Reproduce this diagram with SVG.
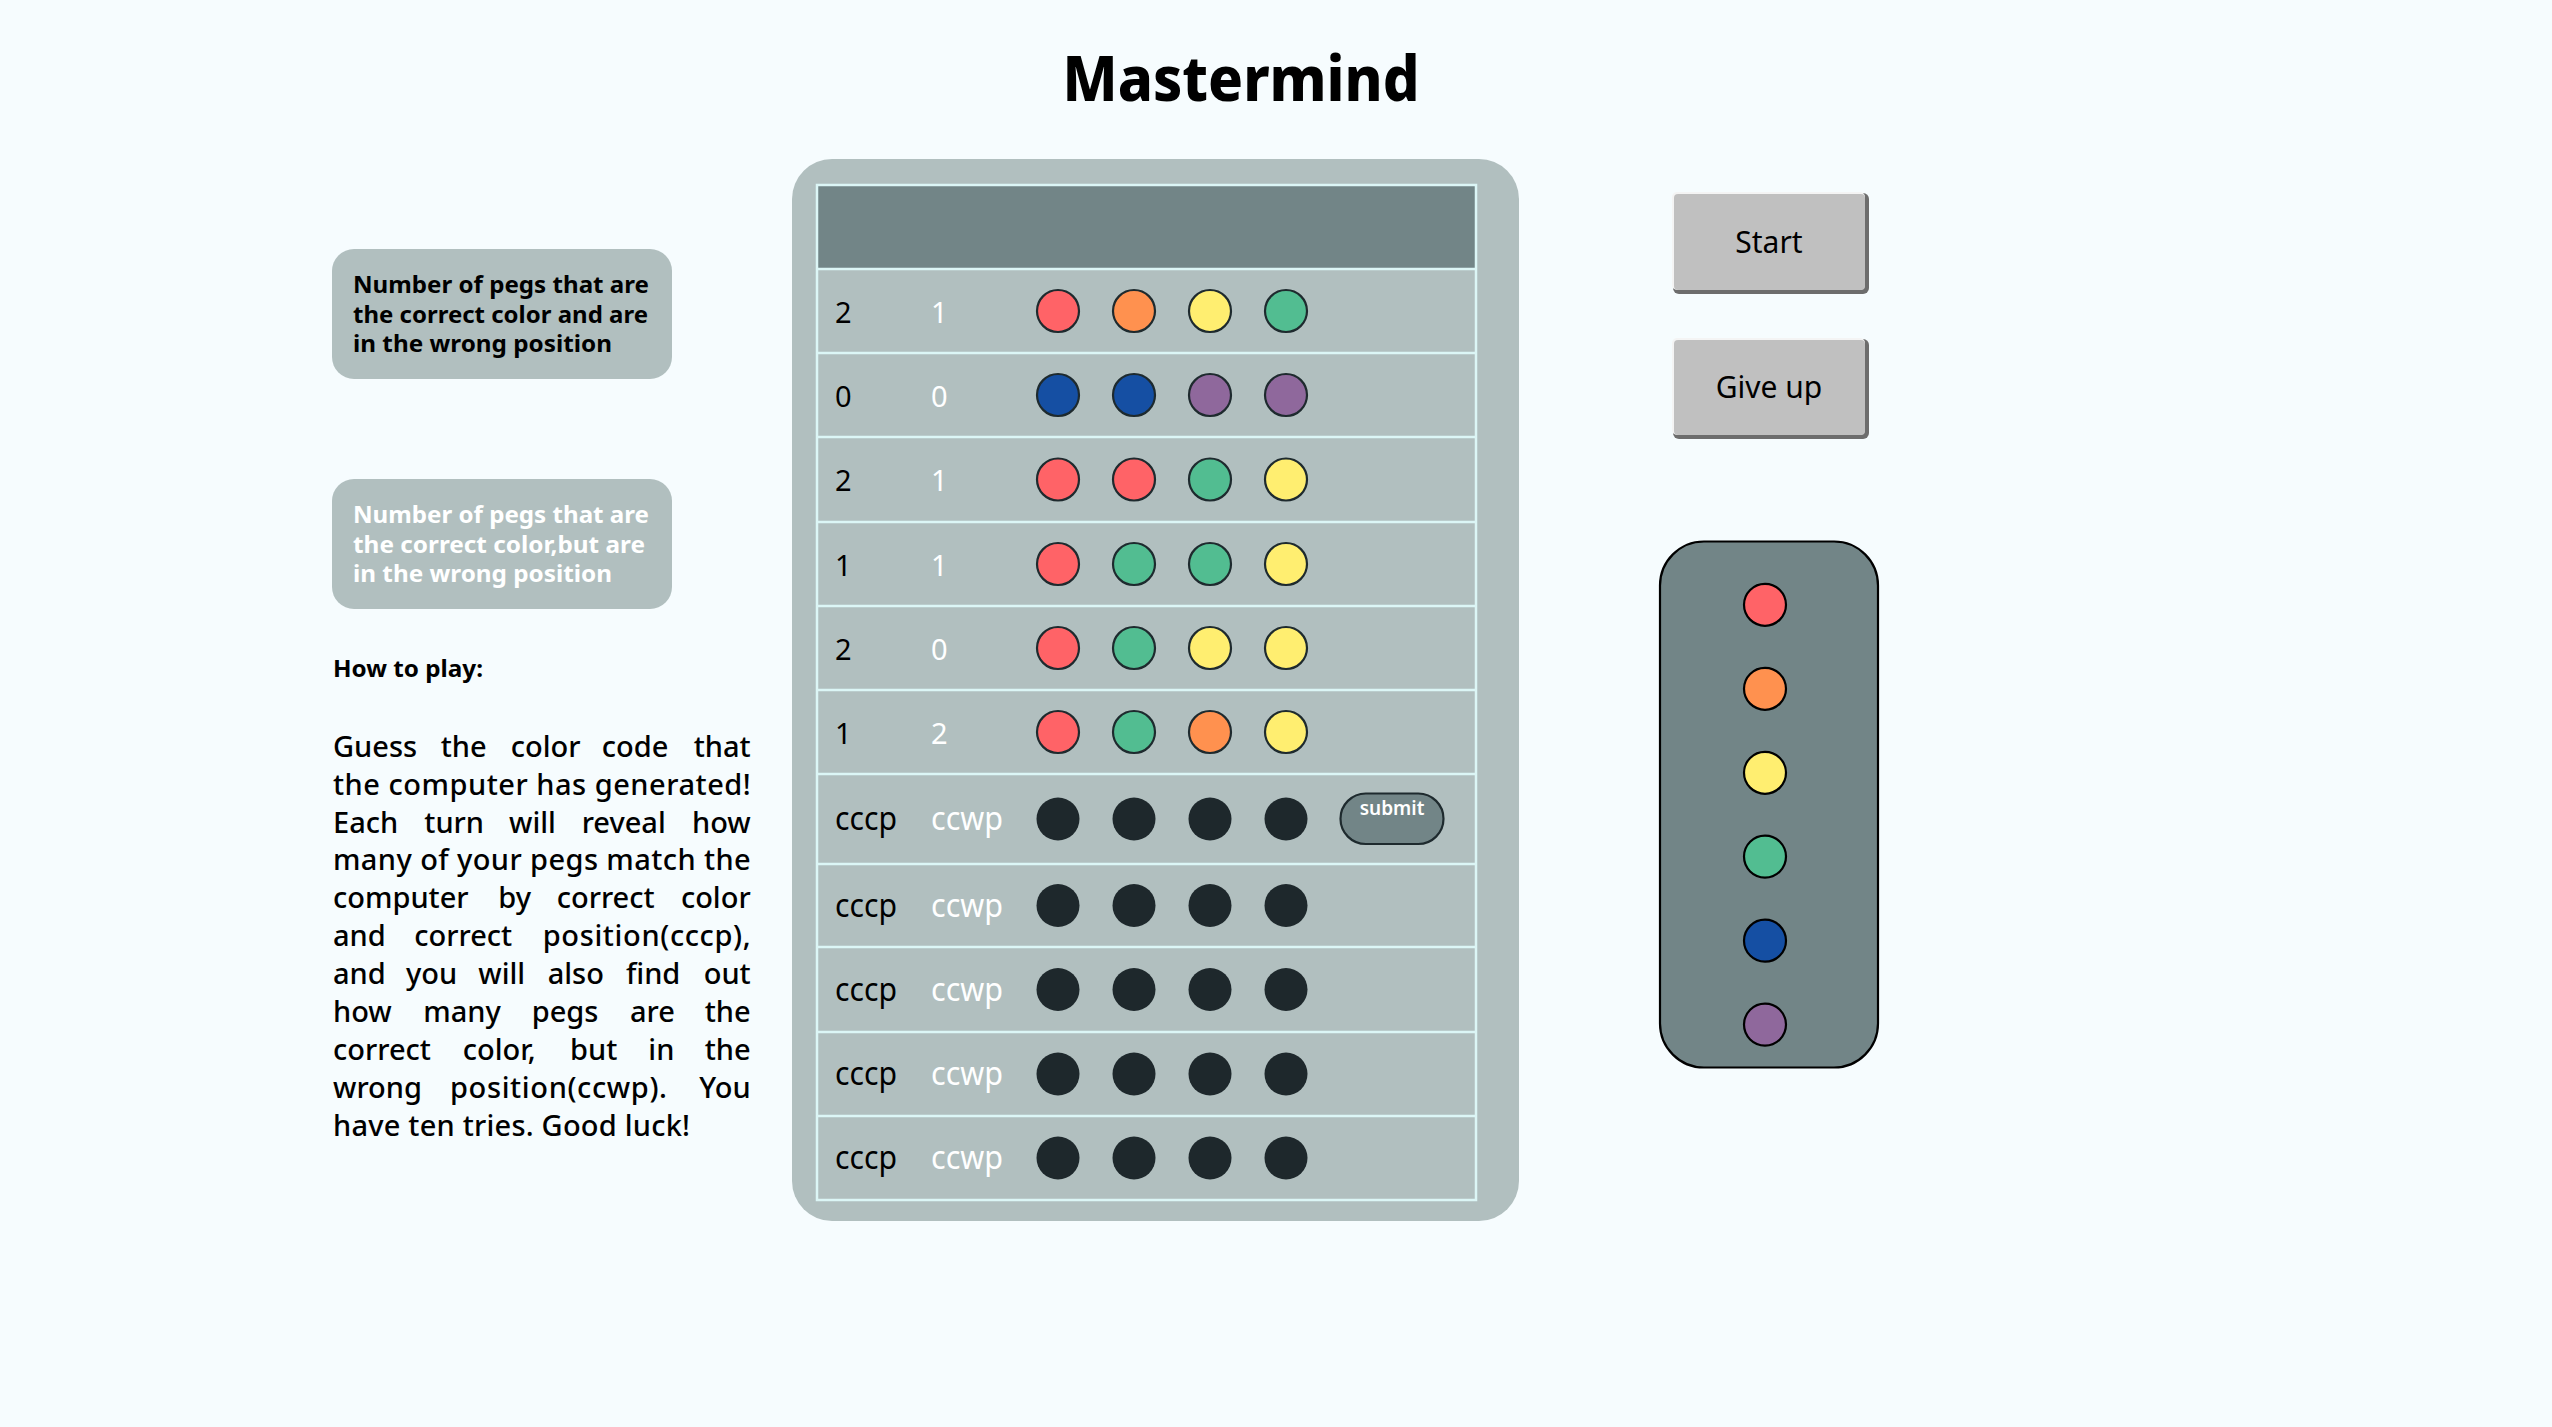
<svg xmlns="http://www.w3.org/2000/svg" width="2552" height="1427" viewBox="0 0 2552 1427">
  <style>
    text { font-family: "Noto Sans", "Open Sans", sans-serif; }
    .title { font-size: 62px; font-weight: 800; fill: #000; }
    .infobox { fill: #b1bfbf; }
    .info { font-size: 24px; font-weight: 700; }
    .how { font-size: 23px; font-weight: 700; fill: #000; }
    .para { font-size: 29px; font-weight: 500; fill: #000; }
    .board { fill: #b1bfbf; }
    .header { fill: #728587; }
    .grid { stroke: #dcf6f6; stroke-width: 2.5; fill: none; }
    .num { font-size: 29px; }
    .lbl { font-size: 33px; }
    .blk { fill: #000; }
    .wht { fill: #ffffff; }
    .peg { stroke: #1e2a2e; stroke-width: 2.2; }
    .empty { fill: #1e282c; }
    .red { fill: #ff6367; }
    .orange { fill: #ff914f; }
    .yellow { fill: #ffee70; }
    .green { fill: #52bd91; }
    .blue { fill: #154fa3; }
    .purple { fill: #8f689c; }
    .btnShadow { fill: #6d6d6d; }
    .btn { fill: #c0c0c0; }
    .btnText { font-size: 30px; fill: #000; }
    .palette { fill: #728587; stroke: #000; stroke-width: 2.2; }
    .ppeg { stroke: #000; stroke-width: 2.2; }
  </style>
  <rect x="0" y="0" width="2552" height="1427" fill="#f6fcfe"/>

  <g id="title">
    <text class="title" x="1241" y="100.5" text-anchor="middle" textLength="357" lengthAdjust="spacingAndGlyphs">Mastermind</text>
  </g>

  <g id="info-cccp">
    <rect class="infobox" x="332" y="249" width="340" height="130" rx="22"/>
    <text class="info blk">
      <tspan x="353" y="293" textLength="296" lengthAdjust="spacingAndGlyphs">Number of pegs that are</tspan>
      <tspan x="353" y="322.5" textLength="295" lengthAdjust="spacingAndGlyphs">the correct color and are</tspan>
      <tspan x="353" y="352" textLength="259" lengthAdjust="spacingAndGlyphs">in the wrong position</tspan>
    </text>
  </g>

  <g id="info-ccwp">
    <rect class="infobox" x="332" y="479" width="340" height="130" rx="22"/>
    <text class="info wht">
      <tspan x="353" y="523" textLength="296" lengthAdjust="spacingAndGlyphs">Number of pegs that are</tspan>
      <tspan x="353" y="552.5" textLength="292" lengthAdjust="spacingAndGlyphs">the correct color,but are</tspan>
      <tspan x="353" y="582" textLength="259" lengthAdjust="spacingAndGlyphs">in the wrong position</tspan>
    </text>
  </g>

  <g id="how-to-play">
    <text class="how" x="333" y="677" textLength="150" lengthAdjust="spacingAndGlyphs">How to play:</text>
    <g class="para">
      <text y="756.7"><tspan x="333">Guess</tspan><tspan x="440.7">the</tspan><tspan x="510.7">color</tspan><tspan x="601.7">code</tspan></text>
      <text y="756.7" x="750.7" text-anchor="end">that</text>
      <text y="794.6" x="333" textLength="417.7" lengthAdjust="spacing">the computer has generated!</text>
      <text y="832.5"><tspan x="333">Each</tspan><tspan x="424.3">turn</tspan><tspan x="509">will</tspan><tspan x="581.7">reveal</tspan></text>
      <text y="832.5" x="750.7" text-anchor="end">how</text>
      <text y="870.4" x="333" textLength="417.7" lengthAdjust="spacing">many of your pegs match the</text>
      <text y="908.3"><tspan x="333">computer</tspan><tspan x="498.3">by</tspan><tspan x="556.7">correct</tspan></text>
      <text y="908.3" x="750.7" text-anchor="end">color</text>
      <text y="946.2"><tspan x="333">and</tspan><tspan x="414.3">correct</tspan></text>
      <text y="946.2" x="750.7" text-anchor="end" textLength="208" lengthAdjust="spacing">position(cccp),</text>
      <text y="984.1"><tspan x="333">and</tspan><tspan x="406">you</tspan><tspan x="478.3">will</tspan><tspan x="547.7">also</tspan><tspan x="626">find</tspan></text>
      <text y="984.1" x="750.7" text-anchor="end">out</text>
      <text y="1022"><tspan x="333">how</tspan><tspan x="423.3">many</tspan><tspan x="531.7">pegs</tspan><tspan x="630">are</tspan></text>
      <text y="1022" x="750.7" text-anchor="end">the</text>
      <text y="1059.9"><tspan x="333">correct</tspan><tspan x="462.7">color,</tspan><tspan x="570">but</tspan><tspan x="648.3">in</tspan></text>
      <text y="1059.9" x="750.7" text-anchor="end">the</text>
      <text y="1097.8"><tspan x="333">wrong</tspan><tspan x="450" textLength="217" lengthAdjust="spacing">position(ccwp).</tspan></text>
      <text y="1097.8" x="750.7" text-anchor="end">You</text>
      <text y="1135.7" x="333" textLength="357" lengthAdjust="spacing">have ten tries. Good luck!</text>
    </g>
  </g>

  <g id="board">
    <rect class="board" x="792" y="159" width="727" height="1062" rx="40"/>
    <rect class="header" x="817" y="185" width="659" height="84"/>
    <g class="grid">
      <rect x="817" y="185" width="659" height="1015"/>
      <path d="M817 269H1476M817 353H1476M817 437H1476M817 522H1476M817 606H1476M817 690H1476M817 774H1476M817 864H1476M817 947H1476M817 1032H1476M817 1116H1476"/>
    </g>
  </g>

  <g id="row-1">
    <text class="num blk" x="835" y="322.7">2</text>
    <text class="num wht" x="931" y="322.7">1</text>
    <circle class="peg red" cx="1058" cy="311" r="21"/>
    <circle class="peg orange" cx="1134" cy="311" r="21"/>
    <circle class="peg yellow" cx="1210" cy="311" r="21"/>
    <circle class="peg green" cx="1286" cy="311" r="21"/>
  </g>
  <g id="row-2">
    <text class="num blk" x="835" y="406.7">0</text>
    <text class="num wht" x="931" y="406.7">0</text>
    <circle class="peg blue" cx="1058" cy="395" r="21"/>
    <circle class="peg blue" cx="1134" cy="395" r="21"/>
    <circle class="peg purple" cx="1210" cy="395" r="21"/>
    <circle class="peg purple" cx="1286" cy="395" r="21"/>
  </g>
  <g id="row-3">
    <text class="num blk" x="835" y="491.2">2</text>
    <text class="num wht" x="931" y="491.2">1</text>
    <circle class="peg red" cx="1058" cy="479.5" r="21"/>
    <circle class="peg red" cx="1134" cy="479.5" r="21"/>
    <circle class="peg green" cx="1210" cy="479.5" r="21"/>
    <circle class="peg yellow" cx="1286" cy="479.5" r="21"/>
  </g>
  <g id="row-4">
    <text class="num blk" x="835" y="575.7">1</text>
    <text class="num wht" x="931" y="575.7">1</text>
    <circle class="peg red" cx="1058" cy="564" r="21"/>
    <circle class="peg green" cx="1134" cy="564" r="21"/>
    <circle class="peg green" cx="1210" cy="564" r="21"/>
    <circle class="peg yellow" cx="1286" cy="564" r="21"/>
  </g>
  <g id="row-5">
    <text class="num blk" x="835" y="659.7">2</text>
    <text class="num wht" x="931" y="659.7">0</text>
    <circle class="peg red" cx="1058" cy="648" r="21"/>
    <circle class="peg green" cx="1134" cy="648" r="21"/>
    <circle class="peg yellow" cx="1210" cy="648" r="21"/>
    <circle class="peg yellow" cx="1286" cy="648" r="21"/>
  </g>
  <g id="row-6">
    <text class="num blk" x="835" y="743.7">1</text>
    <text class="num wht" x="931" y="743.7">2</text>
    <circle class="peg red" cx="1058" cy="732" r="21"/>
    <circle class="peg green" cx="1134" cy="732" r="21"/>
    <circle class="peg orange" cx="1210" cy="732" r="21"/>
    <circle class="peg yellow" cx="1286" cy="732" r="21"/>
  </g>
  <g id="row-7">
    <text class="lbl blk" x="835" y="830" textLength="62" lengthAdjust="spacingAndGlyphs">cccp</text>
    <text class="lbl wht" x="931" y="830" textLength="72" lengthAdjust="spacingAndGlyphs">ccwp</text>
    <circle class="empty" cx="1058" cy="819" r="21.5"/>
    <circle class="empty" cx="1134" cy="819" r="21.5"/>
    <circle class="empty" cx="1210" cy="819" r="21.5"/>
    <circle class="empty" cx="1286" cy="819" r="21.5"/>
  </g>
  <g id="submit">
    <rect x="1340.5" y="793.5" width="103" height="50.5" rx="25.25" fill="#728587" stroke="#1e2a2e" stroke-width="2.2"/>
    <text x="1392" y="815" text-anchor="middle" font-size="19" font-weight="600" fill="#ffffff">submit</text>
  </g>
  <g id="row-8">
    <text class="lbl blk" x="835" y="916.5" textLength="62" lengthAdjust="spacingAndGlyphs">cccp</text>
    <text class="lbl wht" x="931" y="916.5" textLength="72" lengthAdjust="spacingAndGlyphs">ccwp</text>
    <circle class="empty" cx="1058" cy="905.5" r="21.5"/>
    <circle class="empty" cx="1134" cy="905.5" r="21.5"/>
    <circle class="empty" cx="1210" cy="905.5" r="21.5"/>
    <circle class="empty" cx="1286" cy="905.5" r="21.5"/>
  </g>
  <g id="row-9">
    <text class="lbl blk" x="835" y="1000.5" textLength="62" lengthAdjust="spacingAndGlyphs">cccp</text>
    <text class="lbl wht" x="931" y="1000.5" textLength="72" lengthAdjust="spacingAndGlyphs">ccwp</text>
    <circle class="empty" cx="1058" cy="989.5" r="21.5"/>
    <circle class="empty" cx="1134" cy="989.5" r="21.5"/>
    <circle class="empty" cx="1210" cy="989.5" r="21.5"/>
    <circle class="empty" cx="1286" cy="989.5" r="21.5"/>
  </g>
  <g id="row-10">
    <text class="lbl blk" x="835" y="1085" textLength="62" lengthAdjust="spacingAndGlyphs">cccp</text>
    <text class="lbl wht" x="931" y="1085" textLength="72" lengthAdjust="spacingAndGlyphs">ccwp</text>
    <circle class="empty" cx="1058" cy="1074" r="21.5"/>
    <circle class="empty" cx="1134" cy="1074" r="21.5"/>
    <circle class="empty" cx="1210" cy="1074" r="21.5"/>
    <circle class="empty" cx="1286" cy="1074" r="21.5"/>
  </g>
  <g id="row-11">
    <text class="lbl blk" x="835" y="1169" textLength="62" lengthAdjust="spacingAndGlyphs">cccp</text>
    <text class="lbl wht" x="931" y="1169" textLength="72" lengthAdjust="spacingAndGlyphs">ccwp</text>
    <circle class="empty" cx="1058" cy="1158" r="21.5"/>
    <circle class="empty" cx="1134" cy="1158" r="21.5"/>
    <circle class="empty" cx="1210" cy="1158" r="21.5"/>
    <circle class="empty" cx="1286" cy="1158" r="21.5"/>
  </g>

  <g id="start-button">
    <rect class="btnShadow" x="1673" y="193" width="196" height="101" rx="6"/>
    <rect x="1672" y="192" width="193" height="98" rx="5" fill="#f4f4f4"/>
    <rect class="btn" x="1674" y="194" width="191" height="96" rx="4"/>
    <text class="btnText" x="1769" y="253" text-anchor="middle">Start</text>
  </g>
  <g id="giveup-button">
    <rect class="btnShadow" x="1673" y="339" width="196" height="100" rx="6"/>
    <rect x="1672" y="338" width="193" height="97" rx="5" fill="#f4f4f4"/>
    <rect class="btn" x="1674" y="340" width="191" height="95" rx="4"/>
    <text class="btnText" x="1769" y="398" text-anchor="middle">Give up</text>
  </g>

  <g id="palette">
    <rect class="palette" x="1660" y="541.5" width="218" height="526" rx="44"/>
    <circle class="ppeg red" cx="1765" cy="604.8" r="21"/>
    <circle class="ppeg orange" cx="1765" cy="688.8" r="21"/>
    <circle class="ppeg yellow" cx="1765" cy="772.8" r="21"/>
    <circle class="ppeg green" cx="1765" cy="856.6" r="21"/>
    <circle class="ppeg blue" cx="1765" cy="940.7" r="21"/>
    <circle class="ppeg purple" cx="1765" cy="1024.6" r="21"/>
  </g>
</svg>
